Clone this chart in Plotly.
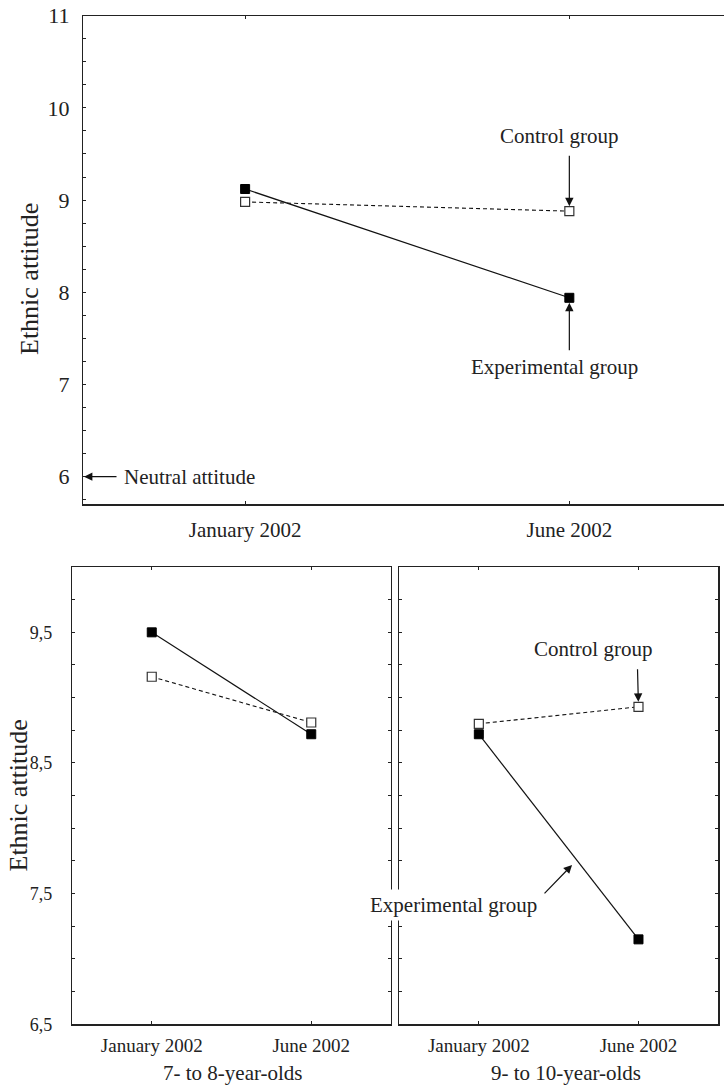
import numpy as np
import plotly.graph_objects as go

# ---------------- data ----------------
periods = ["January 2002", "June 2002"]

# top panel (all children)
top_experimental = [9.12, 7.94]
top_control = [8.98, 8.88]

# bottom-left panel (7- to 8-year-olds)
young_experimental = [9.50, 8.72]
young_control = [9.16, 8.81]

# bottom-right panel (9- to 10-year-olds)
old_experimental = [8.72, 7.15]
old_control = [8.80, 8.93]

top_ytick_vals = [5.75 + 0.25 * i for i in range(22)]
top_ytick_text = [str(int(v)) if abs(v - round(v)) < 1e-9 else "" for v in top_ytick_vals]

bot_ytick_vals = [6.5 + 0.25 * i for i in range(15)]
bot_ytick_text = [("%.1f" % v).replace(".", ",") if abs((v - 0.5) - round(v - 0.5)) < 1e-9 else "" for v in bot_ytick_vals]

panel_titles = ["7- to 8-year-olds", "9- to 10-year-olds"]
y_title = "Ethnic attitude"

FONT = "Liberation Serif, Times New Roman, Times, serif"
TXT = "#222222"
W, H = 724, 1086

def px(x):
    return x / W

def py(y):
    return 1 - y / H

fig = go.Figure()

def add_pair(exp, ctl, xa, ya):
    fig.add_trace(go.Scatter(
        x=periods, y=ctl, xaxis=xa, yaxis=ya, mode="lines+markers",
        line=dict(color="#111111", width=1.1, dash="4px,3px"),
        marker=dict(symbol="square", size=9, color="white",
                    line=dict(color="#333333", width=1.2)),
        cliponaxis=False, hoverinfo="skip"))
    fig.add_trace(go.Scatter(
        x=periods, y=exp, xaxis=xa, yaxis=ya, mode="lines+markers",
        line=dict(color="#111111", width=1.2),
        marker=dict(symbol="square", size=9, color="black",
                    line=dict(color="black", width=1)),
        cliponaxis=False, hoverinfo="skip"))

add_pair(top_experimental, top_control, "x", "y")
add_pair(young_experimental, young_control, "x2", "y2")
add_pair(old_experimental, old_control, "x3", "y3")

axis_common = dict(ticks="inside", ticklen=3, tickwidth=1, tickcolor="#222",
                   showgrid=False, zeroline=False, showline=True, automargin=False,
                   linecolor="#222", linewidth=1.2)

fig.update_layout(
    template="none",
    width=W, height=H, margin=dict(l=0, r=0, t=0, b=0, pad=0),
    paper_bgcolor="white", plot_bgcolor="white", showlegend=False,
    font=dict(family=FONT, color=TXT),
    xaxis=dict(domain=[px(83), 1.0], anchor="y", range=[-0.5, 1.477],
               type="category", mirror="ticks",
               tickfont=dict(size=21, family=FONT, color=TXT),
               ticklabelstandoff=6, **axis_common),
    yaxis=dict(domain=[py(504.3), py(15.7)], anchor="x", range=[5.7, 11],
               tickmode="array", tickvals=top_ytick_vals, ticktext=top_ytick_text,
               tickfont=dict(size=22, family=FONT, color=TXT),
               ticklabelstandoff=8, **axis_common),
    xaxis2=dict(domain=[px(72), px(391)], anchor="y2", range=[-0.5, 1.5],
                type="category", mirror="ticks",
                tickfont=dict(size=19, family=FONT, color=TXT),
                ticklabelstandoff=4, **axis_common),
    yaxis2=dict(domain=[py(1024.3), py(567)], anchor="x2", range=[6.5, 10],
                tickmode="array", tickvals=bot_ytick_vals, ticktext=bot_ytick_text,
                mirror="ticks",
                tickfont=dict(size=18, family=FONT, color=TXT),
                ticklabelstandoff=15, **axis_common),
    xaxis3=dict(domain=[px(399), px(718.3)], anchor="y3", range=[-0.5, 1.5],
                type="category", mirror="ticks",
                tickfont=dict(size=19, family=FONT, color=TXT),
                ticklabelstandoff=4, **axis_common),
    yaxis3=dict(domain=[py(1024.3), py(567)], anchor="x3", range=[6.5, 10],
                tickmode="array", tickvals=bot_ytick_vals,
                ticktext=["" for _ in bot_ytick_vals], mirror="ticks",
                **axis_common),
)

ann_font = dict(family=FONT, size=21, color=TXT)
annotations = [
    # y titles
    dict(text=y_title, xref="paper", yref="paper", x=px(30), y=py(279),
         textangle=-90, showarrow=False, font=dict(family=FONT, size=26, color=TXT),
         xanchor="center", yanchor="middle"),
    dict(text=y_title, xref="paper", yref="paper", x=px(17.5), y=py(796),
         textangle=-90, showarrow=False, font=dict(family=FONT, size=26, color=TXT),
         xanchor="center", yanchor="middle"),
    # panel subtitles
    dict(text=panel_titles[0], xref="paper", yref="paper", x=px(233), y=py(1073),
         showarrow=False, font=ann_font, xanchor="center", yanchor="middle"),
    dict(text=panel_titles[1], xref="paper", yref="paper", x=px(566), y=py(1073),
         showarrow=False, font=ann_font, xanchor="center", yanchor="middle"),
    # top panel labels
    dict(text="Control group", xref="x", yref="y", x=0.968, y=9.69,
         showarrow=False, font=ann_font, xanchor="center", yanchor="middle"),
    dict(text="", xref="x", yref="y", x=1, y=top_control[1], showarrow=True,
         ax=0, ay=-57, arrowhead=2, arrowsize=1.4, arrowwidth=1.2,
         arrowcolor="#111", standoff=5),
    dict(text="Experimental group", xref="x", yref="y", x=0.954, y=7.185,
         showarrow=False, font=ann_font, xanchor="center", yanchor="middle"),
    dict(text="", xref="x", yref="y", x=1, y=top_experimental[1], showarrow=True,
         ax=0, ay=54, arrowhead=2, arrowsize=1.4, arrowwidth=1.2,
         arrowcolor="#111", standoff=5),
    dict(text="Neutral attitude", xref="x", yref="y", x=-0.379, y=6.0,
         showarrow=False, font=ann_font, xanchor="left", yanchor="middle"),
    dict(text="", xref="x", yref="y", x=-0.5, y=6.0, showarrow=True,
         ax=35, ay=0, arrowhead=2, arrowsize=1.4, arrowwidth=1.2,
         arrowcolor="#111", standoff=1),
    # bottom-right labels
    dict(text="Control group", xref="x3", yref="y3", x=0.716, y=9.375,
         showarrow=False, font=ann_font, xanchor="center", yanchor="middle"),
    dict(text="", xref="x3", yref="y3", x=1, y=old_control[1], showarrow=True,
         ax=-1, ay=-39, arrowhead=2, arrowsize=1.4, arrowwidth=1.2,
         arrowcolor="#111", standoff=5),
    dict(text="Experimental group", xref="x3", yref="y3", x=-0.157, y=7.413,
         showarrow=False, font=ann_font, xanchor="center", yanchor="middle",
         bgcolor="white", borderpad=3),
    dict(text="", xref="x3", yref="y3", x=0.584, y=7.72, showarrow=True,
         ax=-29, ay=30, arrowhead=2, arrowsize=1.4, arrowwidth=1.2,
         arrowcolor="#111", standoff=0),
]
fig.update_layout(annotations=annotations)

fig.write_html(
    "out.html",
    config={"displayModeBar": False, "staticPlot": True},
    post_script="document.body.style.margin='0';document.body.style.padding='0';"
                "document.documentElement.style.overflow='hidden';",
)
